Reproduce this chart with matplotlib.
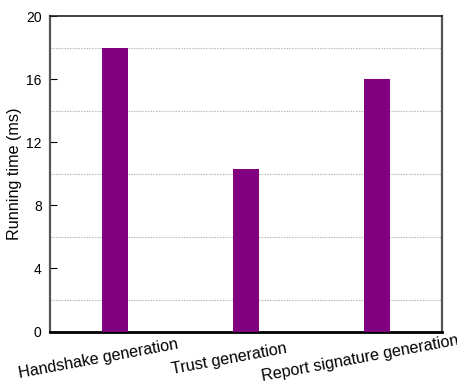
import matplotlib
matplotlib.use("Agg")
import matplotlib.pyplot as plt
import matplotlib.transforms as mtransforms
from matplotlib.ticker import MultipleLocator

plt.rcParams["font.family"] = ["Liberation Sans", "DejaVu Sans"]

# running time of each step (ms)
steps = ["Handshake generation", "Trust generation", "Report signature generation"]
times_ms = [18.0, 10.3, 16.0]
yticks = [0, 4, 8, 12, 16, 20]
grid_levels = [2, 6, 10, 14, 18]

fig = plt.figure(figsize=(4.57, 3.90), dpi=100)
ax = fig.add_axes([50 / 457, 1 - 331.5 / 390, 392 / 457, 315.5 / 390])

x = list(range(len(steps)))
ax.bar(x, times_ms, width=0.2, color="#800080", zorder=3)

# dotted guide lines only between the labelled ticks
for g in grid_levels:
    ax.axhline(g, color="#bdbdbd", lw=0.8, ls=(0, (1.5, 1)), zorder=1)

ax.set_xlim(-0.5, 2.5)
ax.set_ylim(0, 20)
ax.set_yticks(yticks)
ax.yaxis.set_minor_locator(MultipleLocator(2))
ax.tick_params(axis="y", which="major", direction="in", length=5,
               width=0.8, labelsize=10, pad=6)
ax.tick_params(axis="y", which="minor", direction="in", length=0)
ax.set_xticks(x)
ax.set_xticklabels(steps, rotation=10.5, ha="center", va="center", fontsize=11.6)
ax.tick_params(axis="x", length=0, pad=19.5)
offset = mtransforms.ScaledTranslation(-17 / 100, 0, fig.dpi_scale_trans)
for lbl in ax.get_xticklabels():
    lbl.set_transform(lbl.get_transform() + offset)

ax.set_ylabel("Running time (ms)", fontsize=11.6, labelpad=3)

ax.spines["bottom"].set_linewidth(2)
ax.spines["bottom"].set_color("black")
ax.spines["left"].set_linewidth(1.6)
ax.spines["left"].set_color("#555555")
ax.spines["right"].set_linewidth(1.6)
ax.spines["right"].set_color("#555555")
ax.spines["top"].set_linewidth(1.2)
ax.spines["top"].set_color("#222222")

fig.savefig("out.png", dpi=100)
